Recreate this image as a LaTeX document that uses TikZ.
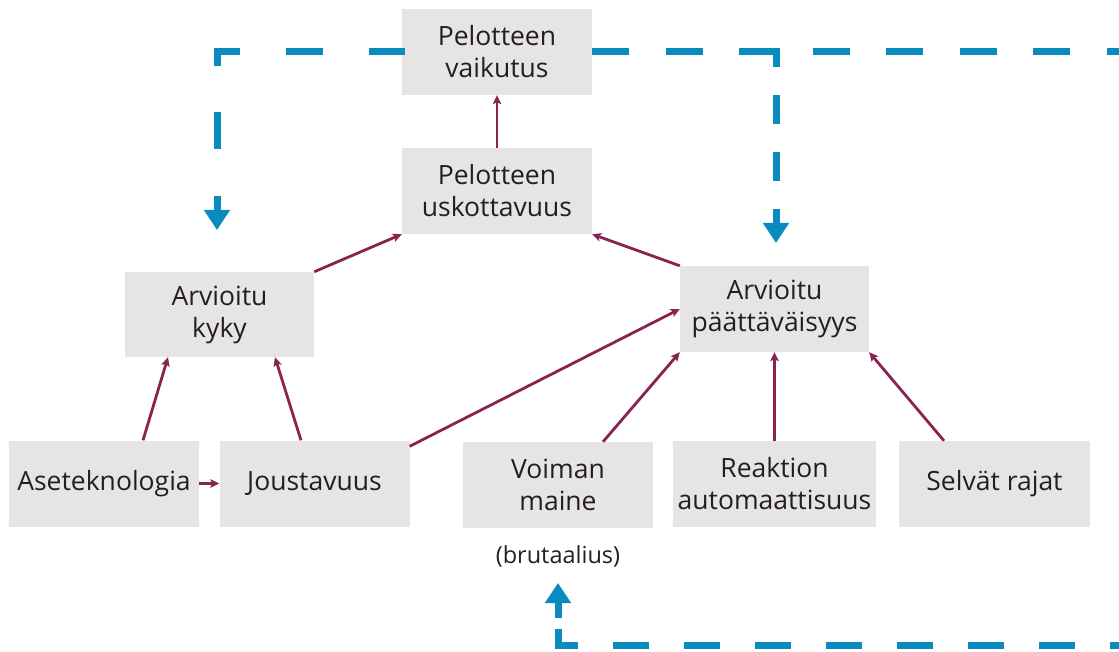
\documentclass[tikz,border=0pt]{standalone}
\usepackage{fontspec}
\setmainfont{Open Sans}
\usetikzlibrary{arrows.meta}
\definecolor{boxgray}{HTML}{E6E5E4}
\definecolor{linkred}{HTML}{8A2352}
\definecolor{loopblue}{HTML}{0A8BBF}
\definecolor{txt}{HTML}{231F20}
\tikzset{
  box/.style={fill=boxgray, draw=none, align=center, inner sep=0pt,
    text=txt, font=\fontsize{26.5}{32}\selectfont},
  link/.style={draw=linkred, line width=2.8pt, -{Stealth[length=9pt,width=8.5pt,inset=2pt]}},
  loop/.style={draw=loopblue, line width=7pt, line cap=rect},
  looptip/.style={draw=loopblue, line width=7pt, -{Triangle[width=25pt,length=20pt]}},
}
\begin{document}
\begin{tikzpicture}[x=1pt,y=-1pt]
\useasboundingbox (0,0) rectangle (1119,652);
% boxes
\node[box, minimum width=190pt, minimum height=86pt] (vaik) at (497,52) {Pelotteen\\vaikutus};
\node[box, minimum width=190pt, minimum height=86pt] (usk) at (497,191) {Pelotteen\\uskottavuus};
\node[box, minimum width=189pt, minimum height=85pt] (kyky) at (219.5,314.5) {Arvioitu\\kyky};
\node[box, minimum width=189pt, minimum height=86pt] (paat) at (774.5,309) {Arvioitu\\päättäväisyys};
\node[box, minimum width=190pt, minimum height=86pt] (ase) at (104,483.5) {Aseteknologia};
\node[box, minimum width=190pt, minimum height=86pt] (jous) at (314.5,483.5) {Joustavuus};
\node[box, minimum width=190pt, minimum height=86pt] (voim) at (558,485) {Voiman\\maine};
\node[box, minimum width=203pt, minimum height=86pt] (reak) at (774.5,484) {Reaktion\\automaattisuus};
\node[box, minimum width=191pt, minimum height=86pt] (selv) at (994.5,484) {Selvät rajat};
\node[text=txt, inner sep=0pt, font=\fontsize{23.5}{28}\selectfont] (brut) at (558,556) {(brutaalius)};
% maroon links
\draw[link] (usk.north) -- (vaik.south);
\draw[link] (kyky.north east) -- (usk.south west);
\draw[link] (paat.north west) -- (usk.south east);
\draw[link] ([xshift=39pt]ase.north) -- ([xshift=-51.5pt]kyky.south);
\draw[link] ([xshift=-13.5pt]jous.north) -- ([xshift=55.5pt]kyky.south);
\draw[link] (ase.east) -- (jous.west);
\draw[link] ([yshift=-6pt]jous.north east) -- (paat.west);
\draw[link] ([xshift=45pt]voim.north) -- (paat.south west);
\draw[link] (reak.north) -- (paat.south);
\draw[link] ([xshift=-50.5pt]selv.north) -- (paat.south east);
% blue loop
\coordinate (tl) at (217,52);
\coordinate (tla) at (217,196);
\coordinate (tle) at (217,230);
\coordinate (tr) at (1119,52);
\coordinate (br) at (776,52);
\coordinate (bra) at (776,209);
\coordinate (bre) at (776,243);
\coordinate (bl) at (558,645);
\coordinate (bla) at (558,618);
\coordinate (ble) at (558,583);
\coordinate (brr) at (1119,645);
\draw[loop, dash pattern=on 30pt off 53pt, dash phase=0.5pt] (vaik.west) -- (tl) -- (tla);
\draw[looptip] (tla) -- (tle);
\draw[loop, dash pattern=on 30pt off 43.5pt, dash phase=70pt] (vaik.east) -- (tr);
\draw[loop, dash pattern=on 21.5pt off 35.5pt, dash phase=10pt] (br) -- (bra);
\draw[looptip] (bra) -- (bre);
\draw[loop, dash pattern=on 29pt off 42pt, dash phase=56.5pt] (bla) -- (bl) -- (brr);
\draw[looptip] (bla) -- (ble);
\end{tikzpicture}
\end{document}
